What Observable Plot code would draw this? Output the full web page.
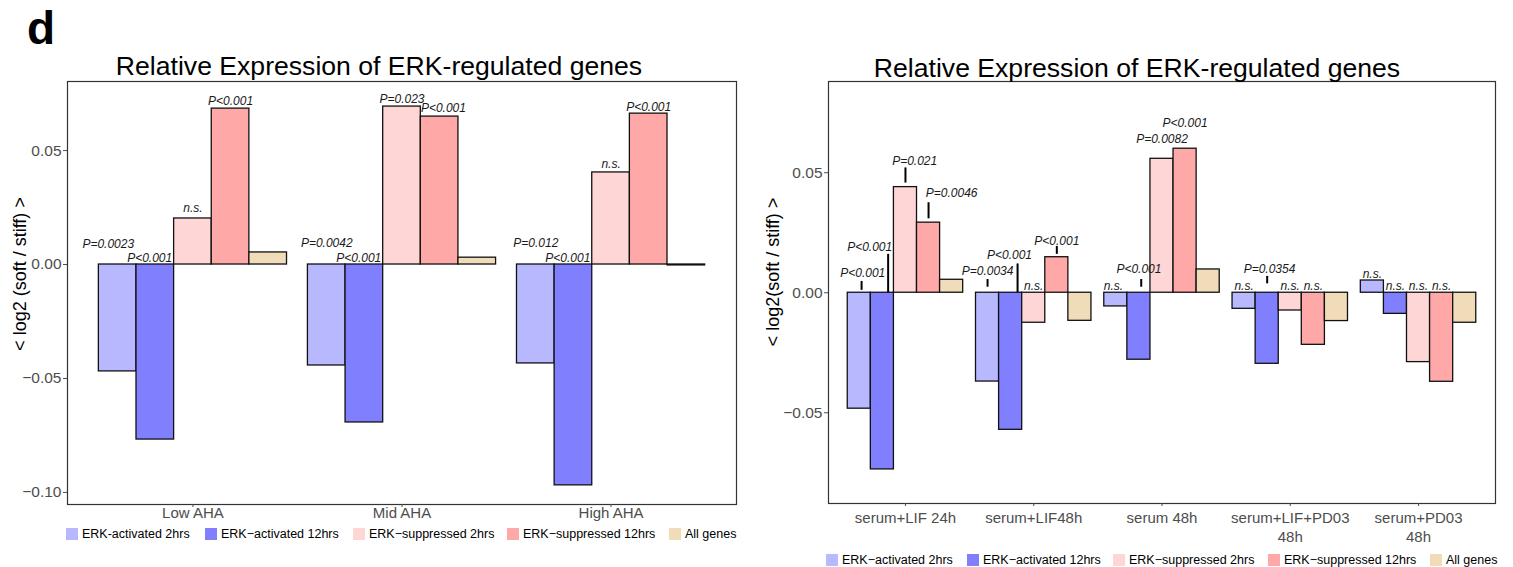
<!DOCTYPE html>
<html>
<head>
<meta charset="utf-8">
<script src="https://cdn.jsdelivr.net/npm/d3@7"></script>
<script src="https://cdn.jsdelivr.net/npm/@observablehq/plot@0.6"></script>
<style>
  body { margin:0; background:#fff; font-family:"Liberation Sans", Arial, sans-serif; }
  #root { position:relative; width:1513px; height:567px; overflow:hidden; }
  .abs { position:absolute; }
  .title { font-size:26.6px; color:#000; white-space:nowrap; transform:translate(-50%,-50%); }
  .ytitle { font-size:18px; color:#000; white-space:nowrap; transform:translate(-50%,-50%) rotate(-90deg); }
  .leg { font-size:12.5px; color:#000; white-space:nowrap; display:flex; align-items:center; transform:translateY(-50%); }
  .leg .sw { width:12px; height:12px; display:inline-block; margin-right:4px; flex:none; }
  .leg .tx { display:inline-block; }
</style>
</head>
<body>
<div id="root"></div>
<script>
// ---------- data ----------
const series = ["ERK-activated 2hrs", "ERK\u2212activated 12hrs", "ERK\u2212suppressed 2hrs", "ERK\u2212suppressed 12hrs", "All genes"];
const seriesRight = ["ERK\u2212activated 2hrs", "ERK\u2212activated 12hrs", "ERK\u2212suppressed 2hrs", "ERK\u2212suppressed 12hrs", "All genes"];
const colors = ["#b8b8ff", "#8080ff", "#ffd6d6", "#ffa8a8", "#f0dcb8"];

// Left panel
const leftGroups = ["Low AHA", "Mid AHA", "High AHA"];
const leftAct2   = [-0.0469, -0.0443, -0.0434];
const leftAct12  = [-0.0768, -0.0693, -0.0969];
const leftSup2   = [ 0.0202,  0.0693,  0.0404];
const leftSup12  = [ 0.0684,  0.0649,  0.0662];
const leftAll    = [ 0.0053,  0.0030, -0.0004];
const leftLabels = [
  ["P=0.0023", "P<0.001", "n.s.", "P<0.001", ""],
  ["P=0.0042", "P<0.001", "P=0.023", "P<0.001", ""],
  ["P=0.012",  "P<0.001", "n.s.", "P<0.001", ""]
];
const leftLabelY = [
  [0.0090, 0.0030, 0.0246, 0.0715, null],
  [0.0092, 0.0028, 0.0727, 0.0684, null],
  [0.0093, 0.0028, 0.0439, 0.0690, null]
];
const leftLabelDx = [
  [-0.25, -0.15, 0, 0, 0],
  [0, -0.15, 0, 0.1, 0],
  [0, -0.15, 0, 0, 0]
];

// Right panel
const rightGroups = ["serum+LIF 24h", "serum+LIF48h", "serum 48h", "serum+LIF+PD03\n48h", "serum+PD03\n48h"];
const rightAct2  = [-0.0483, -0.0370, -0.0057, -0.0067,  0.0051];
const rightAct12 = [-0.0736, -0.0571, -0.0279, -0.0296, -0.0088];
const rightSup2  = [ 0.0440, -0.0125,  0.0558, -0.0074, -0.0289];
const rightSup12 = [ 0.0292,  0.0148,  0.0600, -0.0217, -0.0371];
const rightAll   = [ 0.0054, -0.0117,  0.0097, -0.0118, -0.0125];
const rightLabels = [
  ["P<0.001", "P<0.001", "P=0.021", "P=0.0046", ""],
  ["P=0.0034", "P<0.001", "n.s.", "P<0.001", ""],
  ["n.s.", "P<0.001", "P=0.0082", "P<0.001", ""],
  ["n.s.", "P=0.0354", "n.s.", "n.s.", ""],
  ["n.s.", "n.s.", "n.s.", "n.s.", ""]
];
const rightLabelY = [
  [0.0082, 0.0190, 0.0547, 0.0415, null],
  [0.0090, 0.0158, 0.0026, 0.0215, null],
  [0.0026, 0.0097, 0.0639, 0.0707, null],
  [0.0026, 0.0097, 0.0026, 0.0026, null],
  [0.0079, 0.0026, 0.0026, 0.0026, null]
];
const rightLabelDx = [
  [0.15, -0.55, 0.4, 1.0, 0],
  [0, -0.05, 0, 0, 0],
  [-0.1, 0, 0, 0, 0],
  [0, 0.1, 0, 0, 0],
  [0, 0, 0, 0, 0]
];
const rightSegTop = [
  [0.0047, 0.0160, 0.0520, 0.0375, null],
  [0.0055, 0.0120, null, 0.0193, null],
  [null, 0.0055, null, null, null],
  [null, 0.0068, null, null, null],
  [null, null, null, null, null]
];
const rightSegBottom = [
  [0.0010, 0.0000, 0.0457, 0.0308, null],
  [0.0023, 0.0000, null, 0.0160, null],
  [null, 0.0023, null, null, null],
  [null, 0.0037, null, null, null],
  [null, null, null, null, null]
];
const rightSegDx = [
  [0.1, 0.25, 0, 0, 0],
  [0, 0.3, 0, 0, 0],
  [0, 0.1, 0, 0, 0],
  [0, 0, 0, 0, 0],
  [0, 0, 0, 0, 0]
];

// ---------- helpers ----------
const BW = 0.18; // bar width in group units (0.9 / 5)
function buildBars(groups, vals) {
  const rows = [];
  groups.forEach((g, i) => {
    vals.forEach((arr, j) => {
      const x1 = i + 1 - 0.45 + j * BW;
      rows.push({g, s: j, value: arr[i], x1, x2: x1 + BW});
    });
  });
  return rows;
}
function buildLabels(labels, ys, dxs) {
  const rows = [];
  labels.forEach((row, i) => row.forEach((t, j) => {
    if (t && ys[i][j] != null) rows.push({t, x: i + 1 - 0.45 + (j + 0.5 + dxs[i][j]) * BW, y: ys[i][j]});
  }));
  return rows;
}
function buildSegs(tops, bots, dxs) {
  const rows = [];
  tops.forEach((row, i) => row.forEach((t, j) => {
    if (t != null) rows.push({x: i + 1 - 0.45 + (j + 0.5 + dxs[i][j]) * BW, y1: bots[i][j], y2: t});
  }));
  return rows;
}

const root = document.getElementById("root");
function addDiv(cls, text, left, top, extra) {
  const d = document.createElement("div");
  d.className = "abs " + cls;
  d.textContent = text;
  d.style.left = left + "px";
  d.style.top = top + "px";
  if (extra) Object.assign(d.style, extra);
  root.appendChild(d);
  return d;
}
function addLegend(names, lefts, top) {
  names.forEach((n, j) => {
    const it = document.createElement("div");
    it.className = "abs leg";
    it.style.left = lefts[j] + "px";
    it.style.top = top + "px";
    const sw = document.createElement("span");
    sw.className = "sw";
    sw.style.background = colors[j];
    it.appendChild(sw);
    const tx = document.createElement("span");
    tx.className = "tx";
    tx.textContent = n;
    it.appendChild(tx);
    root.appendChild(it);
  });
}

const fmt = d3.format(".2f");
const axisColor = "#4d4d4d";

function panel({groups, vals, labels, labelY, labelDx, segs, yDomain, yTicks, width, height, mL, mR, mT, mB, xTickPad}) {
  const bars = buildBars(groups, vals);
  const lab = buildLabels(labels, labelY, labelDx);
  const marks = [
    Plot.rect(bars, {x1: "x1", x2: "x2", y1: 0, y2: "value", fill: d => colors[d.s], stroke: "#111", strokeWidth: 1.3}),
    Plot.text(lab, {x: "x", y: "y", text: "t", fontStyle: "italic", fontSize: 12, fill: "#1a1a1a"}),
    Plot.frame({stroke: "#333", strokeWidth: 1.2}),
    Plot.axisY({ticks: yTicks, tickFormat: fmt, tickSize: 4, tickPadding: 2, fontSize: 15.5, color: axisColor, label: null}),
    Plot.axisX({ticks: groups.map((g, i) => i + 1), tickFormat: v => groups[v - 1], tickSize: 3, tickPadding: xTickPad, fontSize: 15, color: axisColor, label: null, lineHeight: 1.25})
  ];
  if (segs) marks.splice(2, 0, Plot.ruleX(segs, {x: "x", y1: "y1", y2: "y2", stroke: "#000", strokeWidth: 2}));
  return Plot.plot({
    width, height, marginLeft: mL, marginRight: mR, marginTop: mT, marginBottom: mB,
    x: {domain: [0.4, groups.length + 0.6]},
    y: {domain: yDomain},
    style: {fontFamily: "Liberation Sans, Arial, sans-serif", background: "transparent", overflow: "visible"},
    marks
  });
}

// ---------- left panel ----------
const left = panel({
  groups: leftGroups,
  vals: [leftAct2, leftAct12, leftSup2, leftSup12, leftAll],
  labels: leftLabels, labelY: leftLabelY, labelDx: leftLabelDx, segs: null,
  yDomain: [-0.1053, 0.0803], yTicks: [-0.10, -0.05, 0, 0.05],
  width: 750, height: 460, mL: 67, mR: 14, mT: 11, mB: 26, xTickPad: -3
});
left.style.position = "absolute"; left.style.left = "0px"; left.style.top = "70px";
root.appendChild(left);

// ---------- right panel ----------
const right = panel({
  groups: rightGroups,
  vals: [rightAct2, rightAct12, rightSup2, rightSup12, rightAll],
  labels: rightLabels, labelY: rightLabelY, labelDx: rightLabelDx,
  segs: buildSegs(rightSegTop, rightSegBottom, rightSegDx),
  yDomain: [-0.0878, 0.088], yTicks: [-0.05, 0, 0.05],
  width: 753, height: 483, mL: 68, mR: 18, mT: 11, mB: 50, xTickPad: 3
});
right.style.position = "absolute"; right.style.left = "760px"; right.style.top = "70px";
root.appendChild(right);

// ---------- text ----------
addDiv("", "d", 27, 3, {fontSize: "46px", fontWeight: "bold", lineHeight: "50px"});
addDiv("title", "Relative Expression of ERK-regulated genes", 379, 66);
addDiv("title", "Relative Expression of ERK-regulated genes", 1137, 68);
addDiv("ytitle", "< log2 (soft / stiff) >", 20, 274);
addDiv("ytitle", "< log2(soft / stiff) >", 773, 272);
addLegend(series, [66, 205, 353, 507, 669], 534);
addLegend(seriesRight, [826, 967, 1113, 1268, 1430], 560);
</script>
</body>
</html>
